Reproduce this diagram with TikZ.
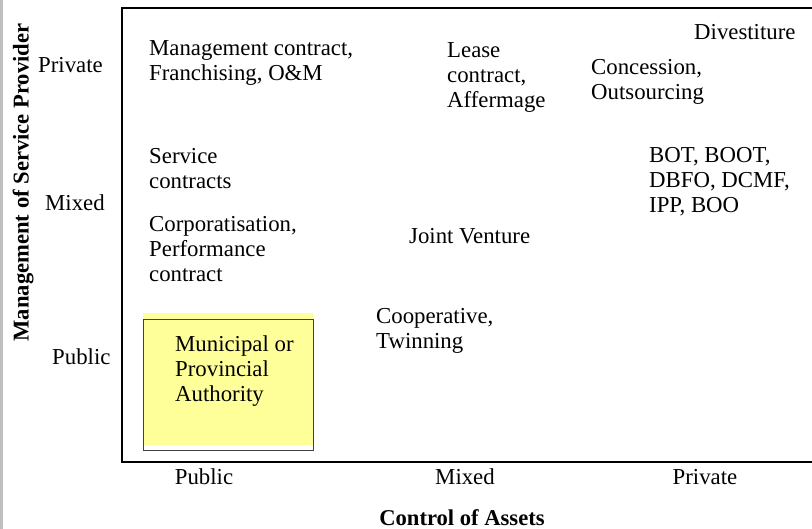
\documentclass[tikz,border=0pt]{standalone}
\usepackage{fontspec}
\setmainfont{Liberation Serif}
\usepackage{tikz}
\usepackage{xcolor}
\definecolor{notepad}{HTML}{FFFF99}

\begin{document}
\begin{tikzpicture}[x=1pt,y=-1pt,
    cell/.style={anchor=base west, align=left, inner sep=0pt, font=\fontsize{22.8}{25}\selectfont},
    axlab/.style={anchor=base, inner sep=0pt, font=\fontsize{22.8}{25}\selectfont},
    axtitle/.style={anchor=base, inner sep=0pt, font=\fontsize{22.6}{25}\selectfont\bfseries}]
    \useasboundingbox (0,0) rectangle (812,529);
    \fill[black!25] (0,0) rectangle (3,529);

    % frame of the matrix
    \draw[line width=1.5pt] (122,8) rectangle (830,462);

    % public/public box
    \fill[notepad] (143,313) rectangle (313,445);
    \draw[black!75,line width=0.8pt] (143,319) rectangle (313,450);

    % row labels
    \node[cell] (rowpriv) at (38,73) {Private};
    \node[cell] (rowmix) at (45,211) {Mixed};
    \node[cell] (rowpub) at (52,365) {Public};
    \node[axtitle,rotate=90] (ytitle) at (28.5,182.5) {Management of Service Provider};

    % column labels
    \node[axlab] (colpub) at (204,485) {Public};
    \node[axlab] (colmix) at (465,485) {Mixed};
    \node[axlab] (colpriv) at (705,485) {Private};
    \node[axtitle] (xtitle) at (462,525.5) {Control of Assets};

    % options (base = last line)
    \node[cell] (mgmt) at (149,81) {Management contract,\\Franchising, O\&M};
    \node[cell] (lease) at (447,108) {Lease\\contract,\\Affermage};
    \node[cell] (divest) at (694,40) {Divestiture};
    \node[cell] (concess) at (591,100) {Concession,\\Outsourcing};
    \node[cell] (service) at (149,189) {Service\\contracts};
    \node[cell] (bot) at (649,213) {BOT, BOOT,\\DBFO, DCMF,\\IPP, BOO};
    \node[cell] (corp) at (149,282) {Corporatisation,\\Performance\\contract};
    \node[cell] (jv) at (409,244) {Joint Venture};
    \node[cell] (coop) at (376,349) {Cooperative,\\Twinning};
    \node[cell] (muni) at (175,402) {Municipal or\\Provincial\\Authority};
  \end{tikzpicture}
\end{document}
